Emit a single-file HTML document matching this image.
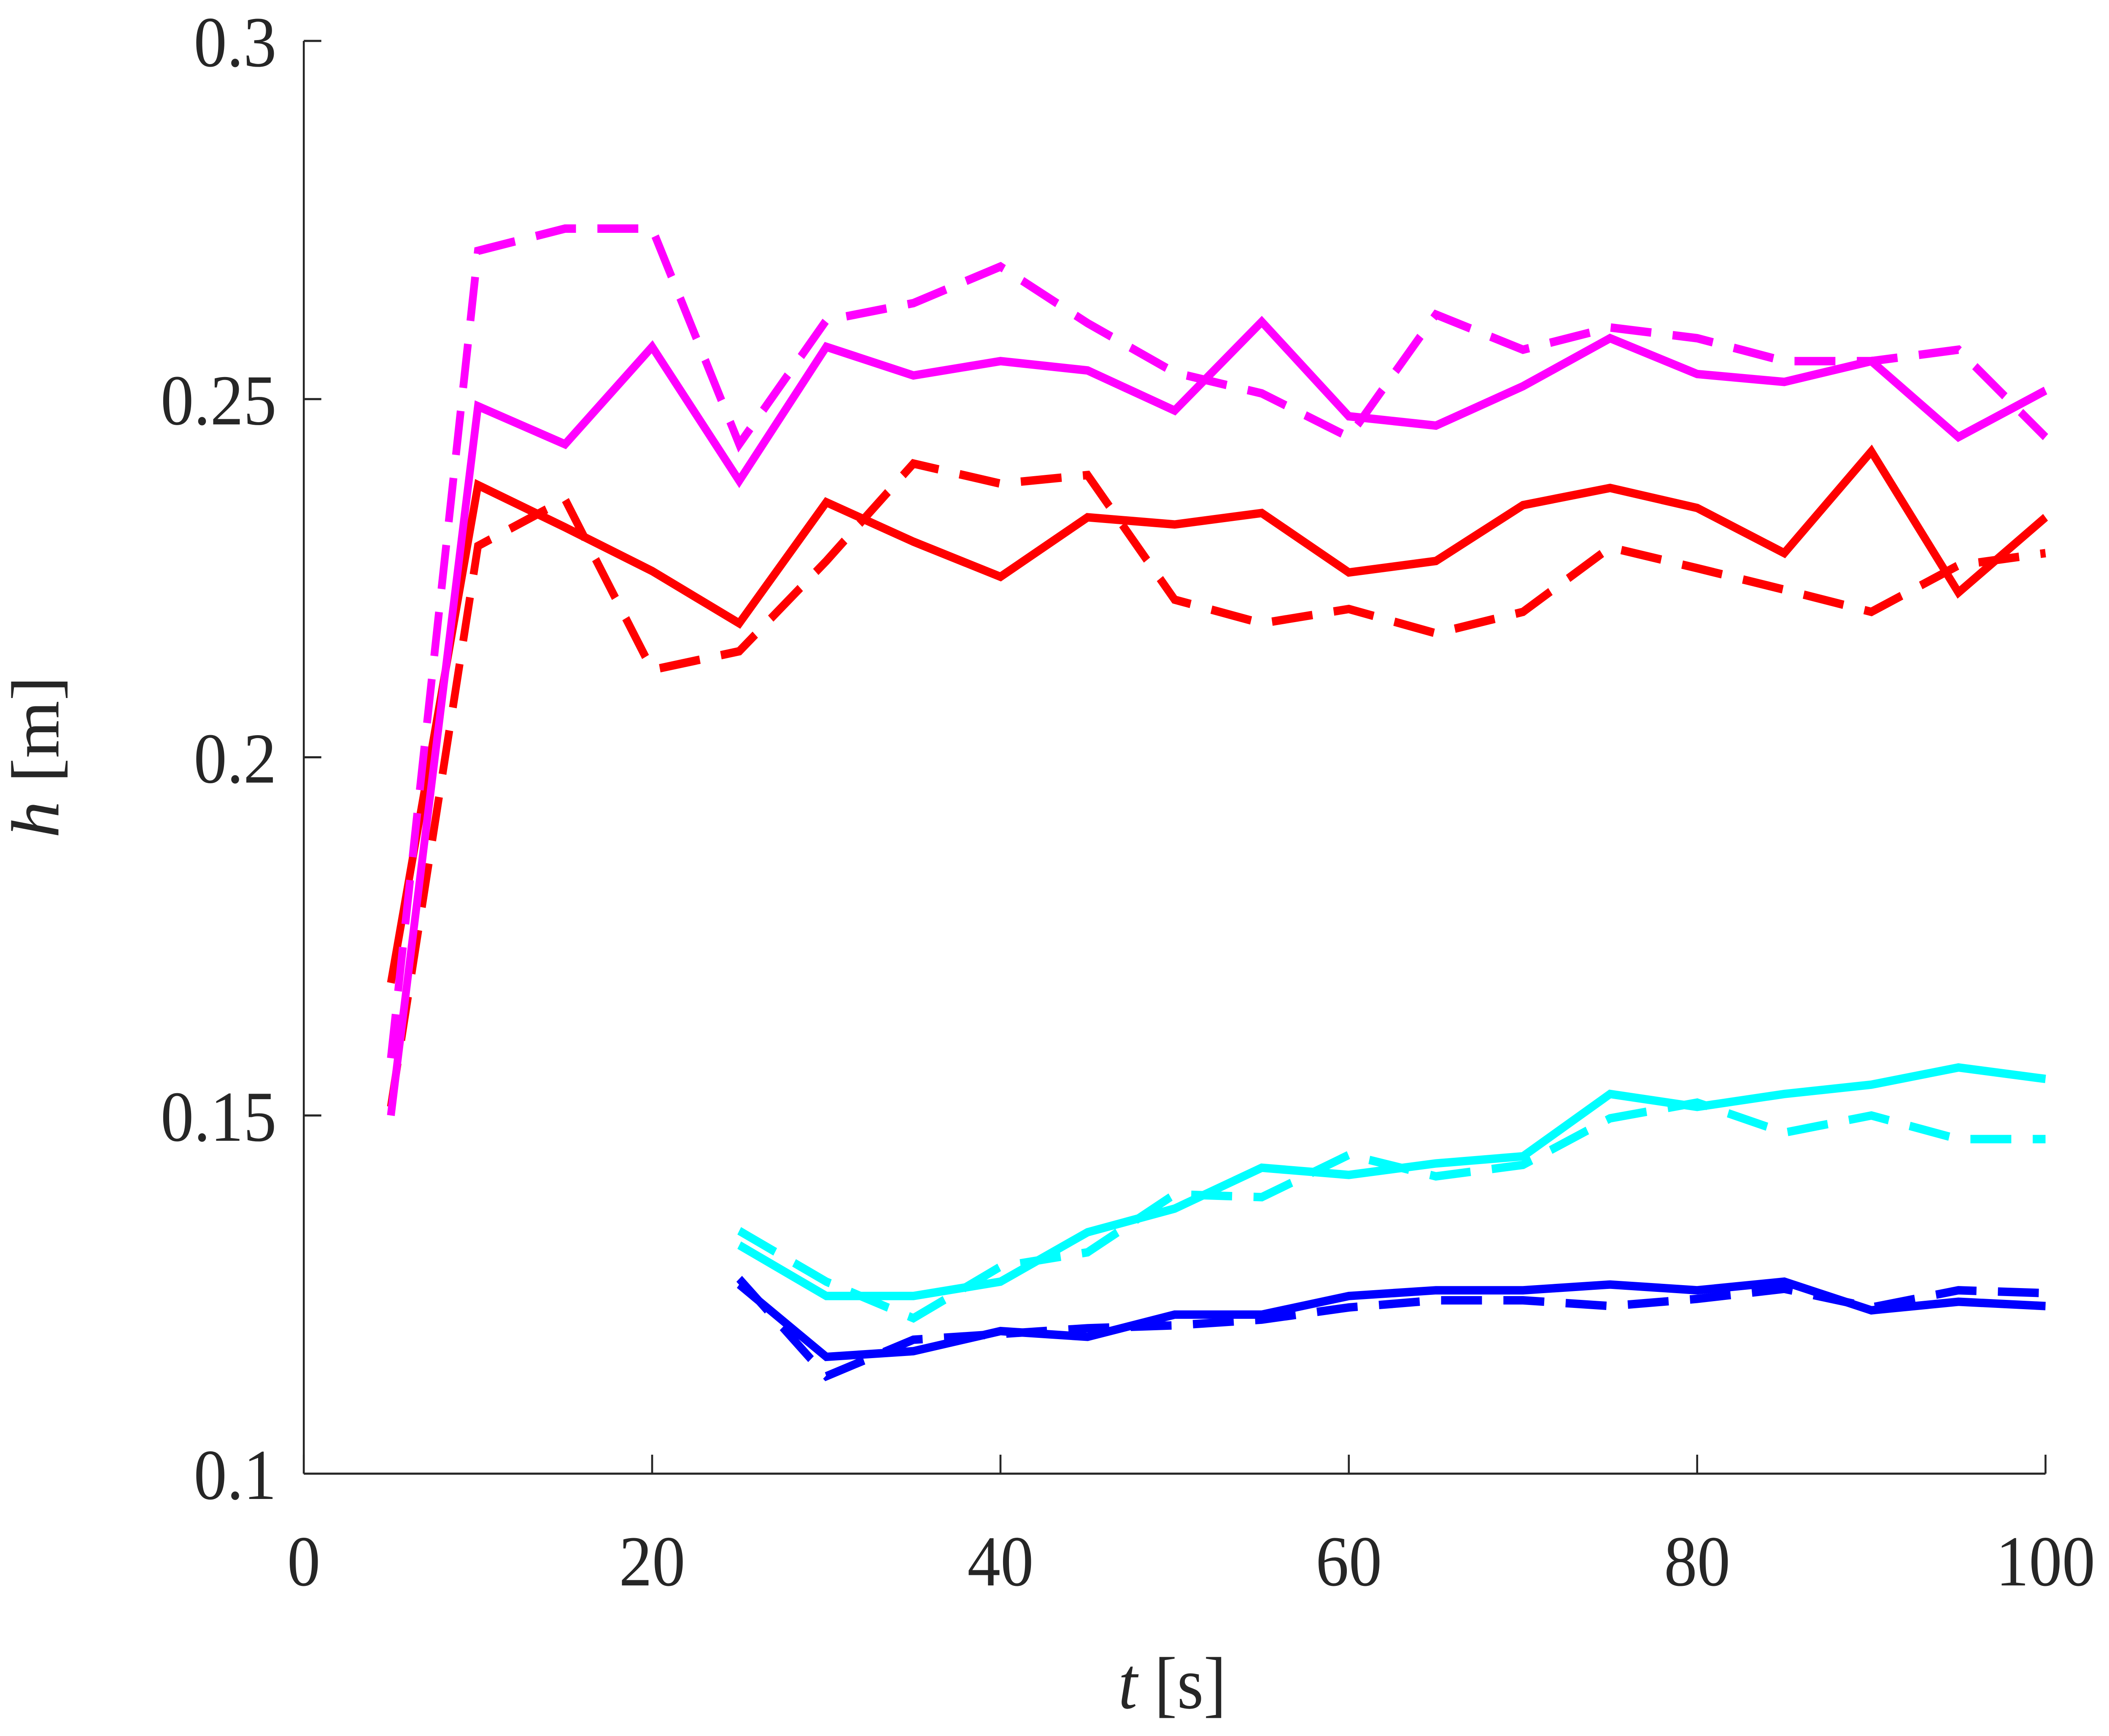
<!DOCTYPE html>
<html><head><meta charset="utf-8"><style>
html,body{margin:0;padding:0;background:#fff;overflow:hidden;width:100%;height:100%;}
svg{display:block;width:100vw;height:100vh;}
text{font-family:"Liberation Serif","DejaVu Serif",serif;fill:#262626;}
</style></head><body>
<svg id="chart" viewBox="0 0 5415 4116" preserveAspectRatio="none" xmlns="http://www.w3.org/2000/svg">
<rect width="5415" height="4116" fill="#fff"/>
<g id="axes"></g>
<g id="series"></g>
<text x="3010" y="4050" font-size="175" text-anchor="middle"><tspan font-style="italic">t</tspan> [s]</text>
<text transform="translate(150,1795) rotate(-90)" font-size="175" text-anchor="middle"><tspan font-style="italic">h</tspan> [m]</text>
</svg>
<script>
const tFull = [5,10,15,20,25,30,35,40,45,50,55,60,65,70,75,80,85,90,95,100];
const tLate = [25,30,35,40,45,50,55,60,65,70,75,80,85,90,95,100];
const magentaSolid = [0.150,0.249,0.2437,0.2573,0.2386,0.2573,0.2533,0.2553,0.254,0.2484,0.2608,0.2476,0.2463,0.2518,0.2585,0.2535,0.2524,0.2553,0.2447,0.2512];
const magentaDashed = [0.158,0.2707,0.2738,0.2738,0.2437,0.261,0.2634,0.2685,0.2606,0.2537,0.2508,0.2447,0.2618,0.2569,0.26,0.2585,0.2553,0.2553,0.2569,0.2447];
const redSolid = [0.1685,0.238,0.2321,0.226,0.2187,0.2356,0.2301,0.2252,0.2335,0.2325,0.2341,0.2258,0.2274,0.2352,0.2376,0.2348,0.2285,0.2427,0.223,0.2335];
const redDashed = [0.1512,0.2295,0.236,0.2122,0.2148,0.2274,0.241,0.2382,0.2394,0.222,0.2187,0.2207,0.2173,0.2203,0.2293,0.2264,0.2234,0.2203,0.2268,0.2285];
const cyanSolid = [0.1319,0.1248,0.1248,0.1268,0.1337,0.137,0.1427,0.1417,0.1433,0.1443,0.153,0.1512,0.153,0.1543,0.1567,0.1551];
const cyanDashed = [0.1339,0.1268,0.1217,0.1289,0.1309,0.139,0.1386,0.1445,0.1415,0.1431,0.1496,0.1518,0.1476,0.15,0.1467,0.1467];
const blueSolid = [0.1264,0.1163,0.1171,0.1199,0.1191,0.1222,0.1222,0.1248,0.1256,0.1256,0.1264,0.1256,0.1268,0.1228,0.124,0.1234];
const blueDashed = [0.1272,0.1136,0.1187,0.1195,0.1203,0.1207,0.1215,0.1232,0.1242,0.1242,0.1234,0.1244,0.1258,0.1232,0.1256,0.1252];
const xTicks = [0,20,40,60,80,100];
const xTickLabels = ["0","20","40","60","80","100"];
const yTicks = [0.1,0.15,0.2,0.25,0.3];
const yTickLabels = ["0.1","0.15","0.2","0.25","0.3"];

const X0=780, X1=5252, Y0=3494, Y1=97;
const xMin=0,xMax=100,yMin=0.1,yMax=0.3;
function sx(v){return X0+(v-xMin)/(xMax-xMin)*(X1-X0);}
function sy(v){return Y0-(v-yMin)/(yMax-yMin)*(Y0-Y1);}
const NS="http://www.w3.org/2000/svg";
const axes=document.getElementById('axes');
function mk(tag,attrs,parent){const e=document.createElementNS(NS,tag);for(const k in attrs)e.setAttribute(k,attrs[k]);parent.appendChild(e);return e;}

let l=mk('line',{x1:X0,y1:Y0,x2:X1,y2:Y0,stroke:'#262626','stroke-width':5},axes);


l=mk('line',{x1:X0,y1:Y0,x2:X0,y2:Y1,stroke:'#262626','stroke-width':5},axes);



xTicks.forEach((v,i)=>{
  const t=mk('line',{x1:sx(v),y1:Y0,x2:sx(v),y2:Y0-45,stroke:'#262626','stroke-width':5},axes);
  
  
  const tx=mk('text',{x:sx(v),y:Y0+265,'font-size':170,'text-anchor':'middle'},axes);
  tx.textContent=xTickLabels[i];
  
  
});
yTicks.forEach((v,i)=>{
  const t=mk('line',{x1:X0,y1:sy(v),x2:X0+45,y2:sy(v),stroke:'#262626','stroke-width':5},axes);
  
  
  const tx=mk('text',{x:X0-70,y:sy(v)+60,'font-size':170,'text-anchor':'end'},axes);
  tx.textContent=yTickLabels[i];
  
  
});

const sg=document.getElementById('series');
function draw(xs,ys,color,dashed,name){
  const pts=xs.map((x,i)=>sx(x).toFixed(1)+','+sy(ys[i]).toFixed(1)).join(' ');
  const p=mk('polyline',{points:pts,fill:'none',stroke:color,'stroke-width':20,'stroke-linejoin':'miter','stroke-linecap':'butt'},sg);
  if(dashed)p.setAttribute('stroke-dasharray','105 55');
  
  
}
draw(tLate,blueDashed,'#0000ff',true,'blue-dashed-series');
draw(tLate,blueSolid,'#0000ff',false,'blue-solid-series');
draw(tLate,cyanDashed,'#00ffff',true,'cyan-dashed-series');
draw(tLate,cyanSolid,'#00ffff',false,'cyan-solid-series');
draw(tFull,redDashed,'#ff0000',true,'red-dashed-series');
draw(tFull,redSolid,'#ff0000',false,'red-solid-series');
draw(tFull,magentaDashed,'#ff00ff',true,'magenta-dashed-series');
draw(tFull,magentaSolid,'#ff00ff',false,'magenta-solid-series');
</script>
</body></html>
